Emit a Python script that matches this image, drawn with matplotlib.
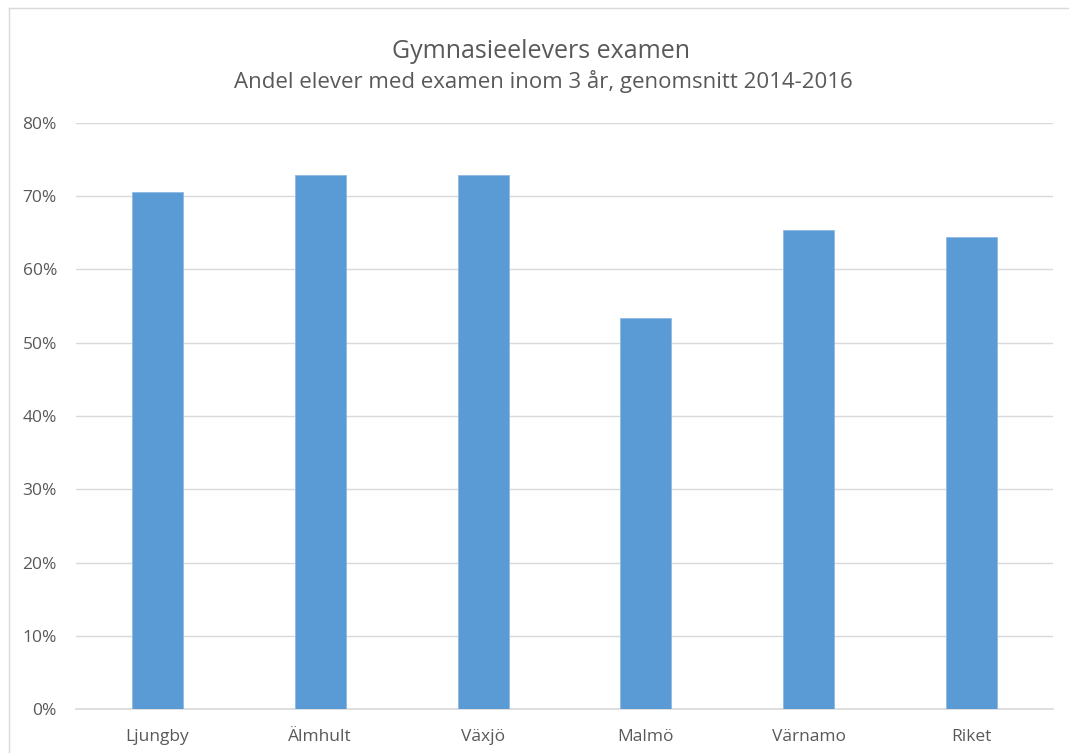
import matplotlib
matplotlib.use("Agg")
import matplotlib.pyplot as plt
from matplotlib.lines import Line2D
from matplotlib.ticker import FuncFormatter

categories = ["Ljungby", "Älmhult", "Växjö", "Malmö", "Värnamo", "Riket"]
values = [0.705, 0.728, 0.728, 0.533, 0.654, 0.644]
yticks = [0.0, 0.1, 0.2, 0.3, 0.4, 0.5, 0.6, 0.7, 0.8]

title = "Gymnasieelevers examen"
subtitle = "Andel elever med examen inom 3 år, genomsnitt 2014-2016"

plt.rcParams['font.family'] = ['Open Sans', 'DejaVu Sans']

W, H = 1069, 753
fig = plt.figure(figsize=(W / 100, H / 100), dpi=100)
fig.patch.set_facecolor("white")

ax = fig.add_axes([76 / W, 1 - 709.3 / H, (1053 - 76) / W, (709.3 - 122.7) / H])
x = list(range(len(categories)))
ax.bar(x, values, width=0.313, color="#5B9BD5", edgecolor="#8DB9E2", linewidth=0.6, zorder=3)
ax.set_xlim(-0.5, len(categories) - 0.5)
ax.set_ylim(0, 0.8)
ax.set_yticks(yticks)
ax.yaxis.set_major_formatter(FuncFormatter(lambda v, p: f"{v * 100:.0f}%"))
ax.set_xticks(x)
ax.set_xticklabels(categories)
ax.grid(axis="y", color="#D9D9D9", linewidth=1.0, zorder=0)
for s in ["top", "right", "left"]:
    ax.spines[s].set_visible(False)
ax.spines["bottom"].set_color("#D9D9D9")
ax.spines["bottom"].set_linewidth(1.2)
ax.tick_params(axis="both", length=0, colors="#595959", labelsize=12.5)
ax.tick_params(axis="y", pad=13.7)
ax.tick_params(axis="x", pad=14)

fig.text(541 / W, 1 - 57.7 / H, title, ha="center", va="baseline", fontsize=18, color="#595959")
fig.text(543 / W, 1 - 87.7 / H, subtitle, ha="center", va="baseline", fontsize=16, color="#595959")

# chart area frame (left and top edges visible)
fig.add_artist(Line2D([8.5 / W, 8.5 / W], [0, 1 - 8 / H], transform=fig.transFigure, color="#D9D9D9", linewidth=1.0))
fig.add_artist(Line2D([8.5 / W, 1], [1 - 8 / H, 1 - 8 / H], transform=fig.transFigure, color="#D9D9D9", linewidth=1.0))

fig.savefig("out.png", dpi=100, facecolor="white")
